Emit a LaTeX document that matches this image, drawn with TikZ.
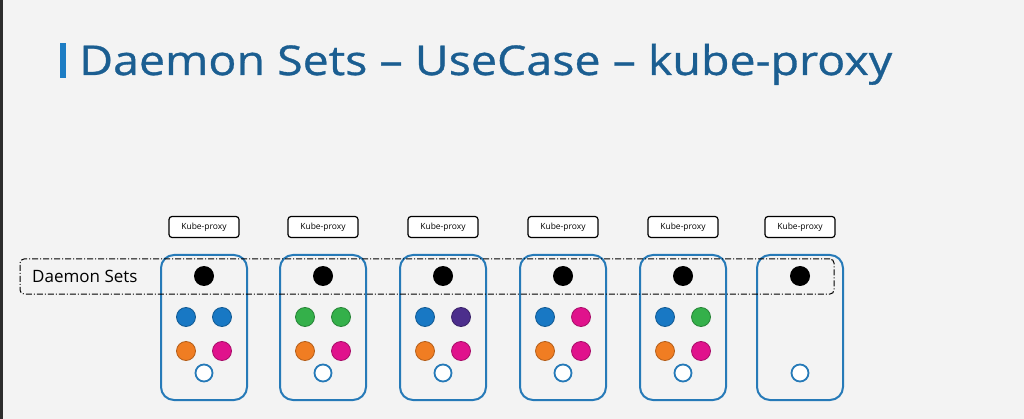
\documentclass[tikz,border=0pt]{standalone}
\usepackage{fontspec}
\setmainfont{Open Sans}
\newfontfamily\titlefont[FakeStretch=1.135, FakeBold=0.8]{Open Sans}
\usetikzlibrary{positioning}
\definecolor{bggray}{RGB}{243,243,243}
\definecolor{edgegray}{RGB}{45,45,45}
\definecolor{titleblue}{RGB}{27,94,145}
\definecolor{barblue}{RGB}{29,125,196}
\definecolor{nodeblue}{RGB}{38,122,184}
\definecolor{podblue}{RGB}{24,120,196}
\definecolor{podgreen}{RGB}{52,176,74}
\definecolor{podpurple}{RGB}{76,46,140}
\definecolor{podorange}{RGB}{240,125,34}
\definecolor{podpink}{RGB}{224,18,140}

\begin{document}
\begin{tikzpicture}[x=1pt, y=-1pt,
  % ── node styles ──────────────────────────────────────────────────────────
  nodebox/.style={
    draw=nodeblue, line width=2pt, rectangle, rounded corners=13pt,
    minimum width=86pt, minimum height=145pt, inner sep=0pt
  },
  proxybox/.style={
    draw=black, line width=1.2pt, rectangle, rounded corners=3pt,
    fill=white, minimum width=70pt, minimum height=21pt, inner sep=0pt,
    font=\fontsize{8.5}{9}\selectfont
  },
  % dash-dot frame round the daemon set pods
  dsframe/.style={
    draw=black, line width=1pt, rounded corners=4pt,
    dash pattern=on 6pt off 2pt on 1pt off 2pt,
    minimum width=814pt, minimum height=35pt, inner sep=0pt
  },
  pod/.style={
    circle, minimum size=19pt, inner sep=0pt, line width=0.8pt,
    fill=#1, draw=#1!75!black
  },
  dspod/.style={circle, minimum size=20pt, inner sep=0pt, fill=black},
  freeslot/.style={
    circle, minimum size=17pt, inner sep=0pt, line width=1.8pt,
    draw=nodeblue, fill=white
  },
]

% ── Background ──────────────────────────────────────────────────────────────
\fill[bggray] (0,0) rectangle (1024,419);
\fill[edgegray] (0,0) rectangle (3,419);
\useasboundingbox (0,0) rectangle (1024,419);

% ── Title ───────────────────────────────────────────────────────────────────
\node[fill=barblue, minimum width=6pt, minimum height=35pt, inner sep=0pt]
  (bar) at (63,60.5) {};
\node[anchor=base west, text=titleblue, inner sep=0pt,
  font=\titlefont\fontsize{41}{41}\selectfont]
  (title) at (79,75) {Daemon Sets – UseCase – kube-proxy};

% ── Worker nodes with kube-proxy on top ─────────────────────────────────────
\foreach \i/\xc in {1/204, 2/323, 3/443, 4/563, 5/683, 6/800}{
  \node[nodebox]  (nd\i) at (\xc,327.5) {};
  \node[proxybox] (kp\i) at (\xc,227) {Kube-proxy};
  \node[dspod]    (ds\i) at (\xc,276) {};
  \node[freeslot] (fs\i) at (\xc,373) {};
}

% ── Daemon set frame ────────────────────────────────────────────────────────
\node[dsframe] (dset) at (427,276.5) {};
\node[anchor=west, inner sep=0pt, font=\fontsize{17}{19}\selectfont]
  (dslabel) at (32,276) {Daemon Sets};

% ── Application pods ────────────────────────────────────────────────────────
\foreach \i/\xc/\ca/\cb in {1/204/podblue/podblue, 2/323/podgreen/podgreen,
  3/443/podblue/podpurple, 4/563/podblue/podpink, 5/683/podblue/podgreen}{
  \node[pod=\ca]       (p\i a) at (\xc-18,317) {};
  \node[pod=\cb]       (p\i b) at (\xc+18,317) {};
  \node[pod=podorange] (p\i c) at (\xc-18,351) {};
  \node[pod=podpink]   (p\i d) at (\xc+18,351) {};
}

\end{tikzpicture}
\end{document}
